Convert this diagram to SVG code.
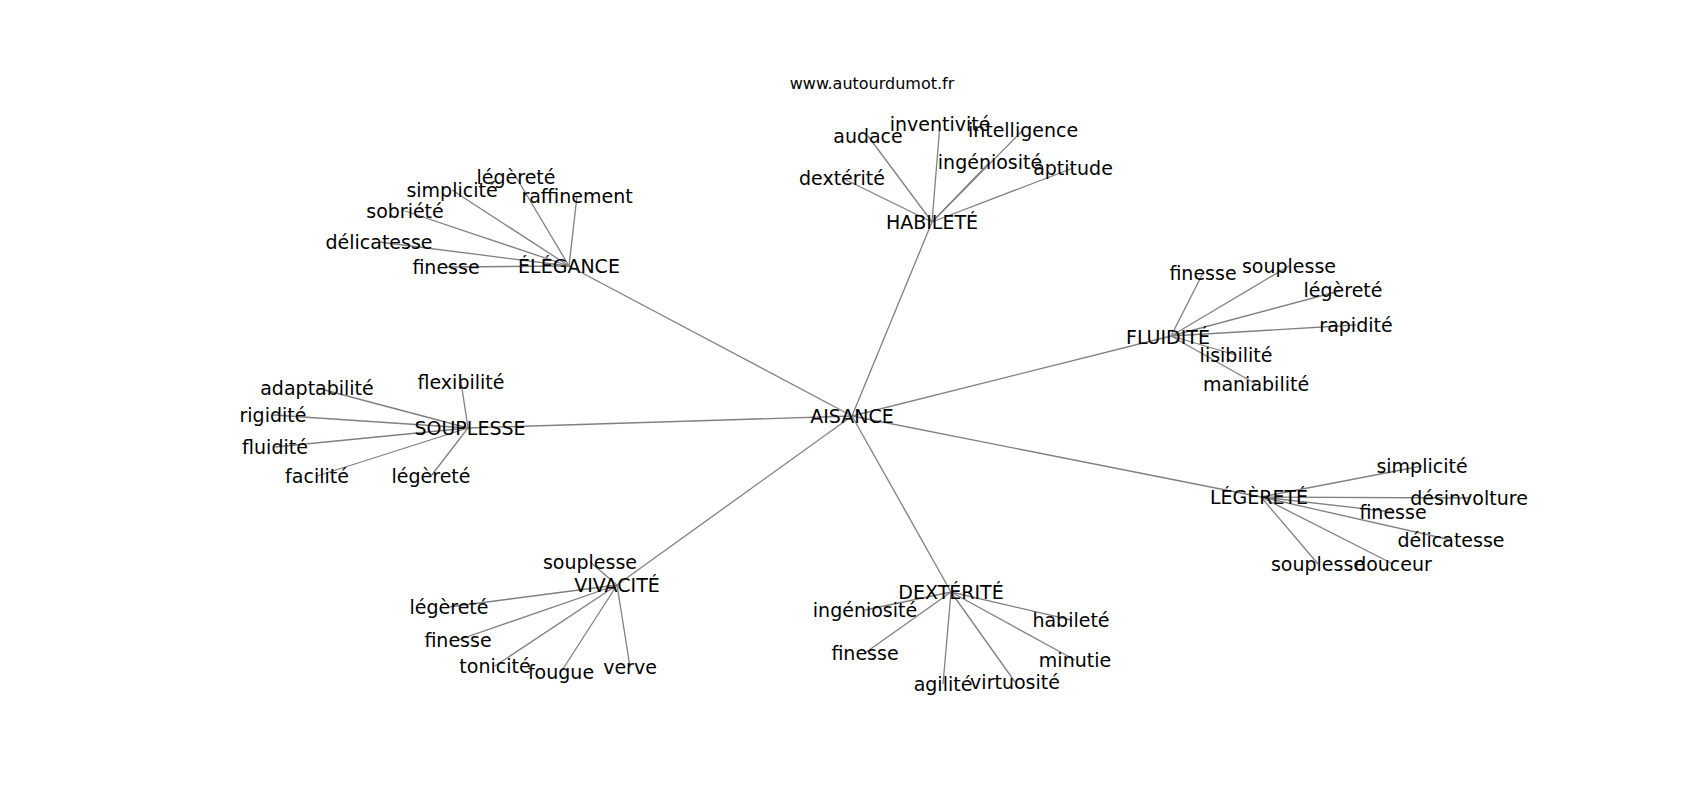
<svg xmlns="http://www.w3.org/2000/svg" width="1700" height="800" viewBox="0 0 1700 800">
<style>
text{font-family:"DejaVu Sans","Liberation Sans",sans-serif;font-size:19px;fill:#000;text-anchor:middle}
.title{font-size:16px}
#edges line{stroke:#808080;stroke-width:1.3}
</style>
<rect width="1700" height="800" fill="#fff"/>
<text class="title" x="872" y="89">www.autourdumot.fr</text>
<g id="edges">
<line x1="852" y1="416" x2="932" y2="222"/>
<line x1="852" y1="416" x2="569" y2="266"/>
<line x1="852" y1="416" x2="1171" y2="336"/>
<line x1="852" y1="416" x2="468" y2="428"/>
<line x1="852" y1="416" x2="1261" y2="497"/>
<line x1="852" y1="416" x2="617" y2="585"/>
<line x1="852" y1="416" x2="951" y2="592"/>
<line x1="932" y1="222" x2="868" y2="136"/>
<line x1="932" y1="222" x2="940" y2="124"/>
<line x1="932" y1="222" x2="1023" y2="130"/>
<line x1="932" y1="222" x2="842" y2="178"/>
<line x1="932" y1="222" x2="990" y2="162"/>
<line x1="932" y1="222" x2="1073" y2="168"/>
<line x1="569" y1="266" x2="516" y2="177"/>
<line x1="569" y1="266" x2="452" y2="190"/>
<line x1="569" y1="266" x2="577" y2="196"/>
<line x1="569" y1="266" x2="405" y2="211"/>
<line x1="569" y1="266" x2="379" y2="242"/>
<line x1="569" y1="266" x2="446" y2="267"/>
<line x1="1171" y1="336" x2="1203" y2="273"/>
<line x1="1171" y1="336" x2="1289" y2="266"/>
<line x1="1171" y1="336" x2="1343" y2="290"/>
<line x1="1171" y1="336" x2="1356" y2="325"/>
<line x1="1171" y1="336" x2="1236" y2="355"/>
<line x1="1171" y1="336" x2="1256" y2="384"/>
<line x1="468" y1="428" x2="317" y2="388"/>
<line x1="468" y1="428" x2="461" y2="382"/>
<line x1="468" y1="428" x2="273" y2="415"/>
<line x1="468" y1="428" x2="275" y2="447"/>
<line x1="468" y1="428" x2="317" y2="476"/>
<line x1="468" y1="428" x2="431" y2="476"/>
<line x1="1261" y1="497" x2="1422" y2="466"/>
<line x1="1261" y1="497" x2="1469" y2="498"/>
<line x1="1261" y1="497" x2="1393" y2="512"/>
<line x1="1261" y1="497" x2="1451" y2="540"/>
<line x1="1261" y1="497" x2="1318" y2="564"/>
<line x1="1261" y1="497" x2="1393" y2="564"/>
<line x1="617" y1="585" x2="590" y2="562"/>
<line x1="617" y1="585" x2="449" y2="607"/>
<line x1="617" y1="585" x2="458" y2="640"/>
<line x1="617" y1="585" x2="495" y2="666"/>
<line x1="617" y1="585" x2="561" y2="672"/>
<line x1="617" y1="585" x2="630" y2="667"/>
<line x1="951" y1="592" x2="865" y2="610"/>
<line x1="951" y1="592" x2="1071" y2="620"/>
<line x1="951" y1="592" x2="865" y2="653"/>
<line x1="951" y1="592" x2="1075" y2="660"/>
<line x1="951" y1="592" x2="943" y2="684"/>
<line x1="951" y1="592" x2="1015" y2="682"/>
</g>
<g id="n-aisance"><text x="852" y="423">AISANCE</text></g>
<g id="n-habilete"><text x="932" y="229">HABILETÉ</text></g>
<g id="n-h-audace"><text x="868" y="143">audace</text></g>
<g id="n-h-inventivite"><text x="940" y="131">inventivité</text></g>
<g id="n-h-intelligence"><text x="1023" y="137">intelligence</text></g>
<g id="n-h-dexterite"><text x="842" y="185">dextérité</text></g>
<g id="n-h-ingeniosite"><text x="990" y="169">ingéniosité</text></g>
<g id="n-h-aptitude"><text x="1073" y="175">aptitude</text></g>
<g id="n-elegance"><text x="569" y="273">ÉLÉGANCE</text></g>
<g id="n-e-legerete"><text x="516" y="184">légèreté</text></g>
<g id="n-e-simplicite"><text x="452" y="197">simplicité</text></g>
<g id="n-e-raffinement"><text x="577" y="203">raffinement</text></g>
<g id="n-e-sobriete"><text x="405" y="218">sobriété</text></g>
<g id="n-e-delicatesse"><text x="379" y="249">délicatesse</text></g>
<g id="n-e-finesse"><text x="446" y="274">finesse</text></g>
<g id="n-fluidite"><text x="1168" y="344">FLUIDITÉ</text></g>
<g id="n-f-finesse"><text x="1203" y="280">finesse</text></g>
<g id="n-f-souplesse"><text x="1289" y="273">souplesse</text></g>
<g id="n-f-legerete"><text x="1343" y="297">légèreté</text></g>
<g id="n-f-rapidite"><text x="1356" y="332">rapidité</text></g>
<g id="n-f-lisibilite"><text x="1236" y="362">lisibilité</text></g>
<g id="n-f-maniabilite"><text x="1256" y="391">maniabilité</text></g>
<g id="n-souplesse"><text x="470" y="435">SOUPLESSE</text></g>
<g id="n-s-adaptabilite"><text x="317" y="395">adaptabilité</text></g>
<g id="n-s-flexibilite"><text x="461" y="389">flexibilité</text></g>
<g id="n-s-rigidite"><text x="273" y="422">rigidité</text></g>
<g id="n-s-fluidite"><text x="275" y="454">fluidité</text></g>
<g id="n-s-facilite"><text x="317" y="483">facilité</text></g>
<g id="n-s-legerete"><text x="431" y="483">légèreté</text></g>
<g id="n-legerete"><text x="1259" y="504">LÉGÈRETÉ</text></g>
<g id="n-l-simplicite"><text x="1422" y="473">simplicité</text></g>
<g id="n-l-desinvolture"><text x="1469" y="505">désinvolture</text></g>
<g id="n-l-finesse"><text x="1393" y="519">finesse</text></g>
<g id="n-l-delicatesse"><text x="1451" y="547">délicatesse</text></g>
<g id="n-l-souplesse"><text x="1318" y="571">souplesse</text></g>
<g id="n-l-douceur"><text x="1393" y="571">douceur</text></g>
<g id="n-vivacite"><text x="617" y="592">VIVACITÉ</text></g>
<g id="n-v-souplesse"><text x="590" y="569">souplesse</text></g>
<g id="n-v-legerete"><text x="449" y="614">légèreté</text></g>
<g id="n-v-finesse"><text x="458" y="647">finesse</text></g>
<g id="n-v-tonicite"><text x="495" y="673">tonicité</text></g>
<g id="n-v-fougue"><text x="561" y="679">fougue</text></g>
<g id="n-v-verve"><text x="630" y="674">verve</text></g>
<g id="n-dexterite"><text x="951" y="599">DEXTÉRITÉ</text></g>
<g id="n-d-ingeniosite"><text x="865" y="617">ingéniosité</text></g>
<g id="n-d-habilete"><text x="1071" y="627">habileté</text></g>
<g id="n-d-finesse"><text x="865" y="660">finesse</text></g>
<g id="n-d-minutie"><text x="1075" y="667">minutie</text></g>
<g id="n-d-agilite"><text x="943" y="691">agilité</text></g>
<g id="n-d-virtuosite"><text x="1015" y="689">virtuosité</text></g>
</svg>
